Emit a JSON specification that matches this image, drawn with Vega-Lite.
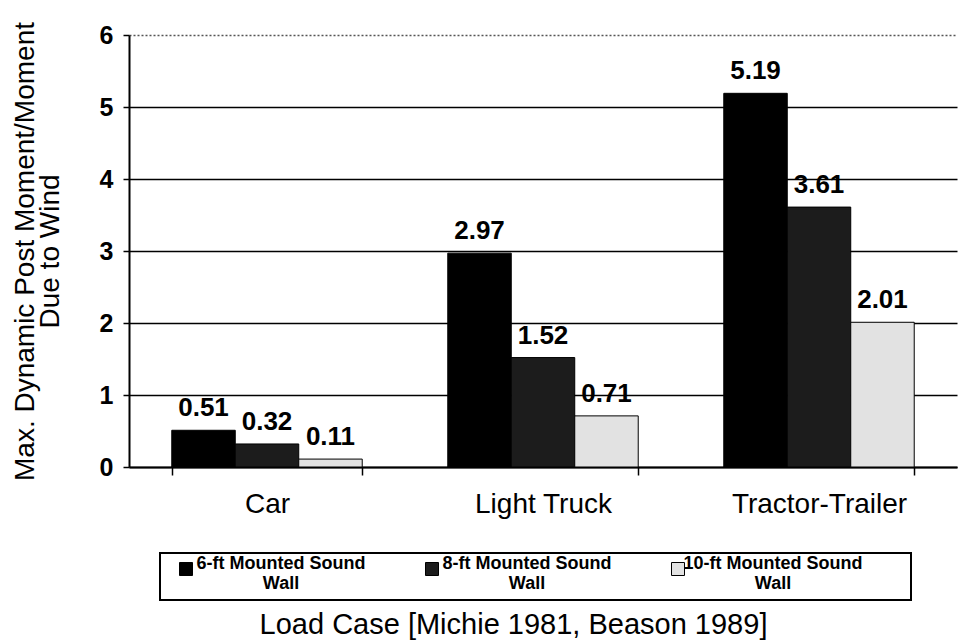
{
  "$schema": "https://vega.github.io/schema/vega-lite/v6.json",
  "width": 828,
  "height": 432,
  "autosize": {"type": "none"},
  "padding": {"left": 129, "top": 35, "right": 7, "bottom": 175},
  "background": "white",
  "config": {
    "view": {"stroke": null},
    "font": "Liberation Sans",
    "legend": {"strokeWidth": 2}
  },
  "data": {
    "values": [
      {"load": "Car", "wall": "6-ft Mounted Sound Wall", "value": 0.51},
      {"load": "Car", "wall": "8-ft Mounted Sound Wall", "value": 0.32},
      {"load": "Car", "wall": "10-ft Mounted Sound Wall", "value": 0.11},
      {"load": "Light Truck", "wall": "6-ft Mounted Sound Wall", "value": 2.97},
      {"load": "Light Truck", "wall": "8-ft Mounted Sound Wall", "value": 1.52},
      {"load": "Light Truck", "wall": "10-ft Mounted Sound Wall", "value": 0.71},
      {"load": "Tractor-Trailer", "wall": "6-ft Mounted Sound Wall", "value": 5.19},
      {"load": "Tractor-Trailer", "wall": "8-ft Mounted Sound Wall", "value": 3.61},
      {"load": "Tractor-Trailer", "wall": "10-ft Mounted Sound Wall", "value": 2.01}
    ]
  },
  "encoding": {
    "x": {
      "field": "load",
      "type": "nominal",
      "sort": ["Car", "Light Truck", "Tractor-Trailer"],
      "scale": {"paddingInner": 0.31, "paddingOuter": 0.155},
      "axis": {
        "title": "Load Case [Michie 1981, Beason 1989]",
        "titleFontSize": 29,
        "titleFontWeight": "normal",
        "titleColor": "black",
        "titleBaseline": "alphabetic",
        "titleY": 166,
        "titleX": 384,
        "labelAngle": 0,
        "labelFontSize": 28,
        "labelColor": "black",
        "labelPadding": 15,
        "tickBand": "extent",
        "tickSize": 8,
        "tickColor": "black",
        "tickWidth": 1.5,
        "domainColor": "black",
        "domainWidth": 2
      }
    },
    "xOffset": {
      "field": "wall",
      "sort": ["6-ft Mounted Sound Wall", "8-ft Mounted Sound Wall", "10-ft Mounted Sound Wall"],
      "scale": {"paddingInner": 0, "paddingOuter": 0}
    },
    "y": {
      "field": "value",
      "type": "quantitative",
      "scale": {"domain": [0, 6], "nice": false},
      "axis": {
        "title": ["Max. Dynamic Post Moment/Moment", "Due to Wind"],
        "titleFontSize": 28,
        "titleFontWeight": "normal",
        "titleColor": "black",
        "titleLineHeight": 25,
        "titlePadding": 35,
        "values": [0, 1, 2, 3, 4, 5, 6],
        "labelFontSize": 25,
        "labelFontWeight": "bold",
        "labelColor": "black",
        "labelPadding": 10,
        "tickSize": 6,
        "tickColor": "black",
        "tickWidth": 1.5,
        "grid": true,
        "gridColor": {"condition": {"test": "datum.value == 6", "value": "#555555"}, "value": "black"},
        "gridDash": {"condition": {"test": "datum.value == 6", "value": [2, 2]}, "value": []},
        "gridWidth": 1.5,
        "gridOpacity": 1,
        "domainColor": "black",
        "domainWidth": 2
      }
    }
  },
  "layer": [
    {
      "mark": {"type": "bar", "stroke": "black", "strokeWidth": 1},
      "encoding": {
        "fill": {
          "field": "wall",
          "type": "nominal",
          "sort": ["6-ft Mounted Sound Wall", "8-ft Mounted Sound Wall", "10-ft Mounted Sound Wall"],
          "scale": {
            "domain": ["6-ft Mounted Sound Wall", "8-ft Mounted Sound Wall", "10-ft Mounted Sound Wall"],
            "range": ["#000000", "#1c1c1c", "#e2e2e2"]
          },
          "legend": {
            "orient": "none",
            "legendX": 31,
            "legendY": 518,
            "direction": "horizontal",
            "columns": 3,
            "title": " ",
            "titleOrient": "right",
            "titlePadding": 42,
            "strokeColor": "black",
            "padding": 7,
            "columnPadding": 47,
            "symbolOffset": 10,
            "symbolType": "square",
            "symbolSize": 169,
            "symbolStrokeColor": "black",
            "symbolStrokeWidth": 1,
            "labelExpr": "[replace(datum.label, ' Wall', ''), 'Wall']",
            "labelAlign": "center",
            "labelOffset": 86,
            "labelBaseline": "alphabetic",
            "labelFontSize": 18,
            "labelFontWeight": "bold",
            "labelLineHeight": 16,
            "labelColor": "black",
            "labelLimit": 0
          }
        }
      }
    },
    {
      "mark": {"type": "text", "baseline": "alphabetic", "dy": -14, "fontSize": 26, "fontWeight": "bold", "color": "black"},
      "encoding": {
        "text": {"field": "value", "type": "quantitative", "format": ".2f"}
      }
    }
  ]
}
